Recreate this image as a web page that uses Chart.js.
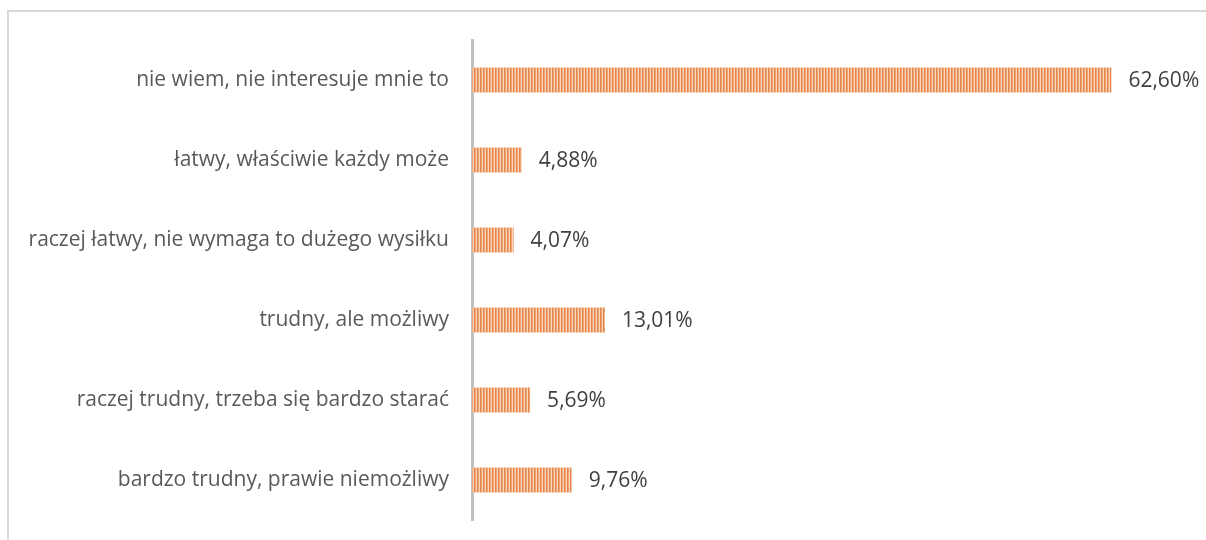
<!DOCTYPE html>
<html>
<head>
<meta charset="utf-8">
<script src="https://cdn.jsdelivr.net/npm/chart.js@4/dist/chart.umd.min.js"></script>
<style>
  html, body { margin: 0; padding: 0; background: #fff; }
  #wrap { position: relative; width: 1206px; height: 540px; }
  #frame { position: absolute; left: 7px; top: 10px; right: 0; bottom: 0;
           border-left: 2px solid #d9d9d9; border-top: 2px solid #d9d9d9; }
  canvas { position: absolute; left: 0; top: 0; }
</style>
</head>
<body>
<div id="wrap">
  <div id="frame"></div>
  <canvas id="chart" width="1206" height="540"></canvas>
</div>
<script>
const categories = [
  "nie wiem, nie interesuje mnie to",
  "łatwy, właściwie każdy może",
  "raczej łatwy, nie wymaga to dużego wysiłku",
  "trudny, ale możliwy",
  "raczej trudny, trzeba się bardzo starać",
  "bardzo trudny, prawie niemożliwy"
];
const values = [62.60, 4.88, 4.07, 13.01, 5.69, 9.76];
const valueLabels = ["62,60%", "4,88%", "4,07%", "13,01%", "5,69%", "9,76%"];

// striped fill like the original
function stripes() {
  const c = document.createElement("canvas");
  c.width = 3; c.height = 1;
  const g = c.getContext("2d");
  g.fillStyle = "#e6844a"; g.fillRect(0, 0, 1, 1);
  g.fillStyle = "#efa576"; g.fillRect(1, 0, 1, 1);
  g.fillStyle = "#f8d6be"; g.fillRect(2, 0, 1, 1);
  return g.createPattern(c, "repeat");
}

const valueText = {
  id: "valueText",
  afterDatasetsDraw(chart) {
    const ctx = chart.ctx;
    const meta = chart.getDatasetMeta(0);
    ctx.save();
    ctx.font = "21px 'Open Sans'";
    ctx.fillStyle = "#404040";
    ctx.textBaseline = "middle";
    meta.data.forEach((bar, i) => {
      ctx.fillText(valueLabels[i], bar.x + 17, bar.y + 1);
    });
    ctx.restore();
  }
};

const ctx = document.getElementById("chart").getContext("2d");
new Chart(ctx, {
  type: "bar",
  data: {
    labels: categories,
    datasets: [{
      data: values,
      backgroundColor: stripes(),
      borderWidth: 0,
      barPercentage: 0.62,
      categoryPercentage: 0.5
    }]
  },
  options: {
    indexAxis: "y",
    responsive: false,
    animation: false,
    layout: { padding: { top: 40, bottom: 20, right: 19, left: 0 } },
    plugins: { legend: { display: false }, tooltip: { enabled: false } },
    scales: {
      x: {
        display: false,
        min: 0,
        max: 70
      },
      y: {
        grid: { display: false, drawTicks: false },
        border: { display: true, color: "#bfbfbf", width: 3 },
        ticks: {
          padding: 23,
          color: "#595959",
          font: { family: "'Open Sans'", size: 21 }
        },
        afterFit(scale) {
          scale.width = 472;
          scale.paddingTop = 0;
          scale.paddingBottom = 0;
        }
      }
    }
  },
  plugins: [valueText]
});
</script>
</body>
</html>
